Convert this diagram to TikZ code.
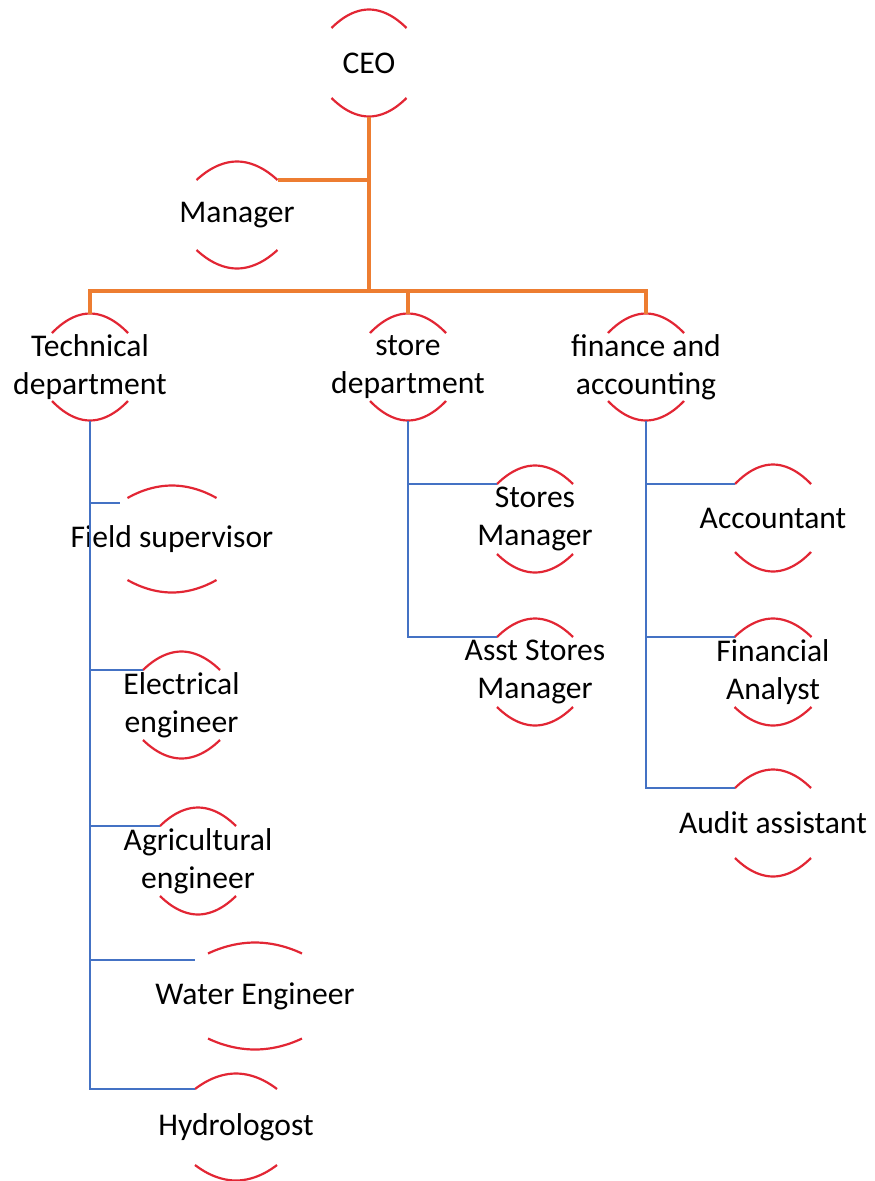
\documentclass[tikz,border=0pt]{standalone}
\usepackage{fontspec}
\setmainfont{Carlito}

\definecolor{arcred}{RGB}{226,38,52}
\definecolor{orgorange}{RGB}{237,125,49}
\definecolor{orgblue}{RGB}{68,114,196}

% two red arcs above and below a role, plus its hook points
\newcommand{\rolearcs}[3]{%
  \draw[role arc,shift={(#1.center)}]
    (-#2,-#3) parabola bend (0,-53.5) (#2,-#3)
    (-#2,#3) parabola bend (0,53.5) (#2,#3)
    (0,-53.5) coordinate (#1-top) (0,53.5) coordinate (#1-bot)
    (-#2,-#3) coordinate (#1-in) (#2,-#3) coordinate (#1-out);}

\begin{document}
\begin{tikzpicture}[x=1pt,y=-1pt]
  \tikzstyle{role}=[inner sep=0pt,align=center,font=\fontsize{31.6}{37.5}\selectfont]
  \tikzstyle{role arc}=[draw=arcred,line width=2.2pt]
  \tikzstyle{orgline}=[draw=orgorange,line width=3.2pt]
  \tikzstyle{deptline}=[draw=orgblue,line width=2.8pt]

  \useasboundingbox (0,0) rectangle (875,1181);

  \node[role] (ceo)       at (369,63)    {CEO};
  \node[role] (manager)   at (237,215)   {Manager};
  \node[role] (tech)      at (90,367)    {Technical\\department};
  \node[role] (store)     at (408,367)   {store\\department};
  \node[role] (fin)       at (646,367)   {finance and\\accounting};
  \node[role] (field)     at (172,539)   {Field supervisor};
  \node[role] (elec)      at (181.5,705) {Electrical\\engineer};
  \node[role] (agri)      at (198,861)   {Agricultural\\engineer};
  \node[role] (water)     at (255,996)   {Water Engineer};
  \node[role] (hydro)     at (236,1127)  {Hydrologost};
  \node[role] (storesmgr) at (535,519)   {Stores\\Manager};
  \node[role] (asst)      at (535,672)   {Asst Stores\\Manager};
  \node[role] (acct)      at (773,518)   {Accountant};
  \node[role] (analyst)   at (773,672)   {Financial\\Analyst};
  \node[role] (audit)     at (773,823)   {Audit assistant};

  \rolearcs{ceo}{37.5}{35}
  \rolearcs{manager}{40.5}{35}
  \rolearcs{tech}{38}{34}
  \rolearcs{store}{38}{34}
  \rolearcs{fin}{38}{34}
  \rolearcs{field}{44.5}{41}
  \rolearcs{elec}{38.5}{35}
  \rolearcs{agri}{38}{35}
  \rolearcs{water}{47}{42.5}
  \rolearcs{hydro}{41}{38}
  \rolearcs{storesmgr}{38}{35}
  \rolearcs{asst}{38}{35}
  \rolearcs{acct}{38}{34}
  \rolearcs{analyst}{38.5}{35}
  \rolearcs{audit}{38}{35}

  \coordinate (bus) at (369,291);
  \coordinate (field-stub) at (120,503);
  \coordinate (water-stub) at (195,960);

  % top level
  \draw[orgline] (ceo-bot) -- (bus);
  \draw[orgline] (ceo-bot |- manager-out) -- (manager-out);
  \draw[orgline] (tech-top) |- (bus) -| (fin-top);
  \draw[orgline] (store-top) -- (store-top |- bus);

  % departments
  \draw[deptline] (tech-bot) |- (hydro-in);
  \foreach \n in {field-stub,elec-in,agri-in,water-stub}
    \draw[deptline] (tech-bot |- \n) -- (\n);
  \draw[deptline] (store-bot) |- (asst-in);
  \draw[deptline] (store-bot |- storesmgr-in) -- (storesmgr-in);
  \draw[deptline] (fin-bot) |- (audit-in);
  \foreach \n in {acct,analyst}
    \draw[deptline] (fin-bot |- \n-in) -- (\n-in);
\end{tikzpicture}
\end{document}
